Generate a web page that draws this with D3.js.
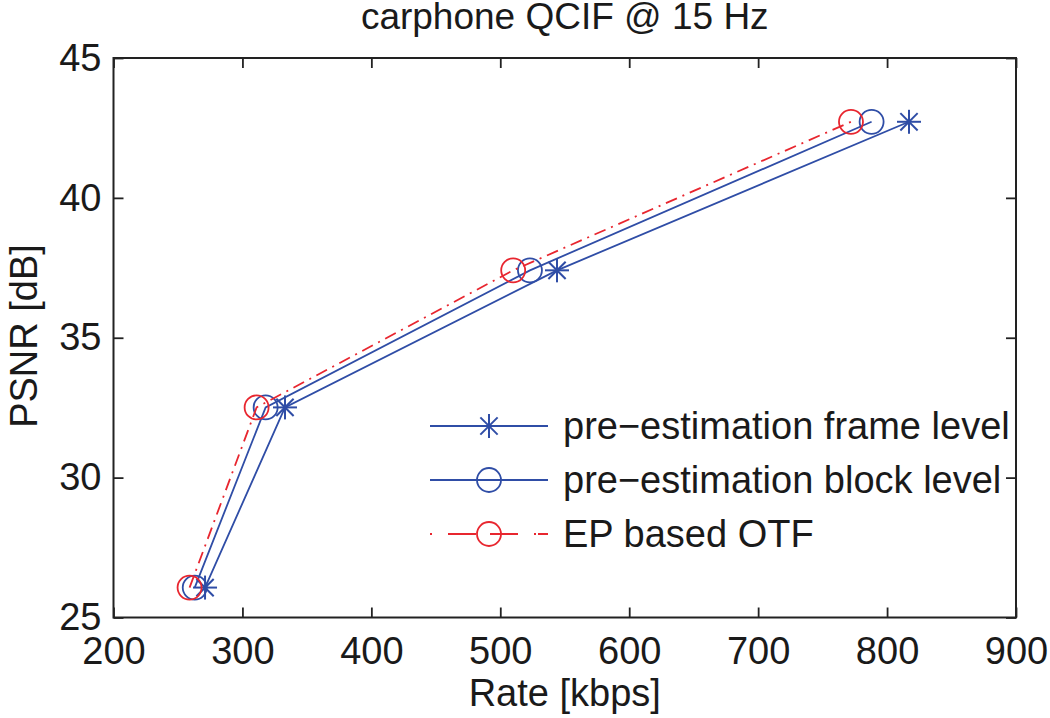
<!DOCTYPE html>
<html><head><meta charset="utf-8">
<script src="https://cdn.jsdelivr.net/npm/d3@7"></script>
<style>
body{margin:0;background:#fff;}
text{font-family:"Liberation Sans",Arial,sans-serif;fill:#1a1a1a;}
</style></head>
<body><svg id="c" width="1050" height="718"></svg>
<script>
const title = "carphone QCIF @ 15 Hz";
const xLabel = "Rate [kbps]";
const yLabel = "PSNR [dB]";
const xTicks = [200,300,400,500,600,700,800,900];
const yTicks = [25,30,35,40,45];
const psnr = [26.07, 32.51, 37.41, 42.72];
const rateFrame = [271, 333, 544, 817];
const rateBlock = [263, 318, 523, 788];
const rateOTF = [259, 311, 510, 772];
const seriesNames = ["pre\u2212estimation frame level","pre\u2212estimation block level","EP based OTF"];

(function(){
const W=1050,H=718, m={l:113.5,r:34,t:58,b:100.5};
const svg=d3.select("#c");
const x=d3.scaleLinear().domain([200,900]).range([m.l,W-m.r]);
const y=d3.scaleLinear().domain([25,45]).range([H-m.b,m.t]);
const blue="#2f4da6", red="#e8262f";
const FS=38;

svg.append("text").attr("x",(m.l+W-m.r)/2).attr("y",29).attr("text-anchor","middle")
  .style("font-size","37px").text(title);

const series=[
 {name:seriesNames[0],xs:rateFrame,color:blue,dash:null,marker:"star"},
 {name:seriesNames[1],xs:rateBlock,color:blue,dash:null,marker:"circle"},
 {name:seriesNames[2],xs:rateOTF,color:red,dash:"12,6,2,6",marker:"circle"}
];
const line=d3.line().x(d=>x(d[0])).y(d=>y(d[1]));
function drawMarker(g,type,cx,cy,color){
  if(type==="circle"){
    g.append("circle").attr("cx",cx).attr("cy",cy).attr("r",12).attr("fill","none")
     .attr("stroke",color).attr("stroke-width",1.8);
  } else {
    const r=12, rd=r*0.72;
    const segs=[[0,-r,0,r],[-r,0,r,0],[-rd,-rd,rd,rd],[-rd,rd,rd,-rd]];
    segs.forEach(s=>g.append("line").attr("x1",cx+s[0]).attr("y1",cy+s[1]).attr("x2",cx+s[2]).attr("y2",cy+s[3])
      .attr("stroke",color).attr("stroke-width",2));
  }
}
const pg=svg.append("g");
series.forEach(s=>{
  const pts=s.xs.map((v,i)=>[v,psnr[i]]);
  pg.append("path").attr("d",line(pts)).attr("fill","none").attr("stroke",s.color)
    .attr("stroke-width",1.8).attr("stroke-dasharray",s.dash);
  pts.forEach(p=>drawMarker(pg,s.marker,x(p[0]),y(p[1]),s.color));
});

const axCol="#222";
const axB=svg.append("g").attr("transform",`translate(0,${H-m.b})`)
  .call(d3.axisBottom(x).tickValues(xTicks).tickSize(-10).tickFormat(d3.format("d")));
axB.selectAll("text").attr("y",46).attr("dy",0).style("font-size",FS+"px");
const axT=svg.append("g").attr("transform",`translate(0,${m.t})`)
  .call(d3.axisTop(x).tickValues(xTicks).tickSize(-10).tickFormat(""));
const axL=svg.append("g").attr("transform",`translate(${m.l},0)`)
  .call(d3.axisLeft(y).tickValues(yTicks).tickSize(-10).tickFormat(d3.format("d")));
axL.selectAll("text").attr("x",-12).attr("dy","0.32em").style("font-size",FS+"px");
const axR=svg.append("g").attr("transform",`translate(${W-m.r},0)`)
  .call(d3.axisRight(y).tickValues(yTicks).tickSize(-10).tickFormat(""));
[axB,axT,axL,axR].forEach(a=>{
  a.select(".domain").remove();
  a.selectAll(".tick line").attr("stroke",axCol).attr("stroke-width",1.8);
  a.selectAll("text").style("fill","#1a1a1a").style("font-family","'Liberation Sans',Arial,sans-serif");
});

svg.append("clipPath").attr("id","cp").append("rect")
  .attr("x",0).attr("y",0).attr("width",W-m.r).attr("height",H);
const lg=svg.append("g").attr("clip-path","url(#cp)");
const ly=[426,480,534];
series.forEach((s,i)=>{
  lg.append("line").attr("x1",430).attr("x2",548).attr("y1",ly[i]).attr("y2",ly[i])
    .attr("stroke",s.color).attr("stroke-width",1.8).attr("stroke-dasharray",s.dash?"2,16,28,14,28,16,2":null);
  drawMarker(lg,s.marker,489,ly[i],s.color);
  lg.append("text").attr("x",563).attr("y",ly[i]).attr("dy","0.35em").style("font-size",FS+"px").text(s.name);
});

svg.append("rect").attr("x",m.l).attr("y",m.t).attr("width",W-m.l-m.r).attr("height",H-m.t-m.b)
  .attr("fill","none").attr("stroke",axCol).attr("stroke-width",2);

svg.append("text").attr("x",(m.l+W-m.r)/2).attr("y",706).attr("text-anchor","middle")
  .style("font-size",FS+"px").text(xLabel);
svg.append("text").attr("transform","translate(37,336) rotate(-90)").attr("text-anchor","middle")
  .style("font-size",FS+"px").text(yLabel);
})();
</script></body></html>
